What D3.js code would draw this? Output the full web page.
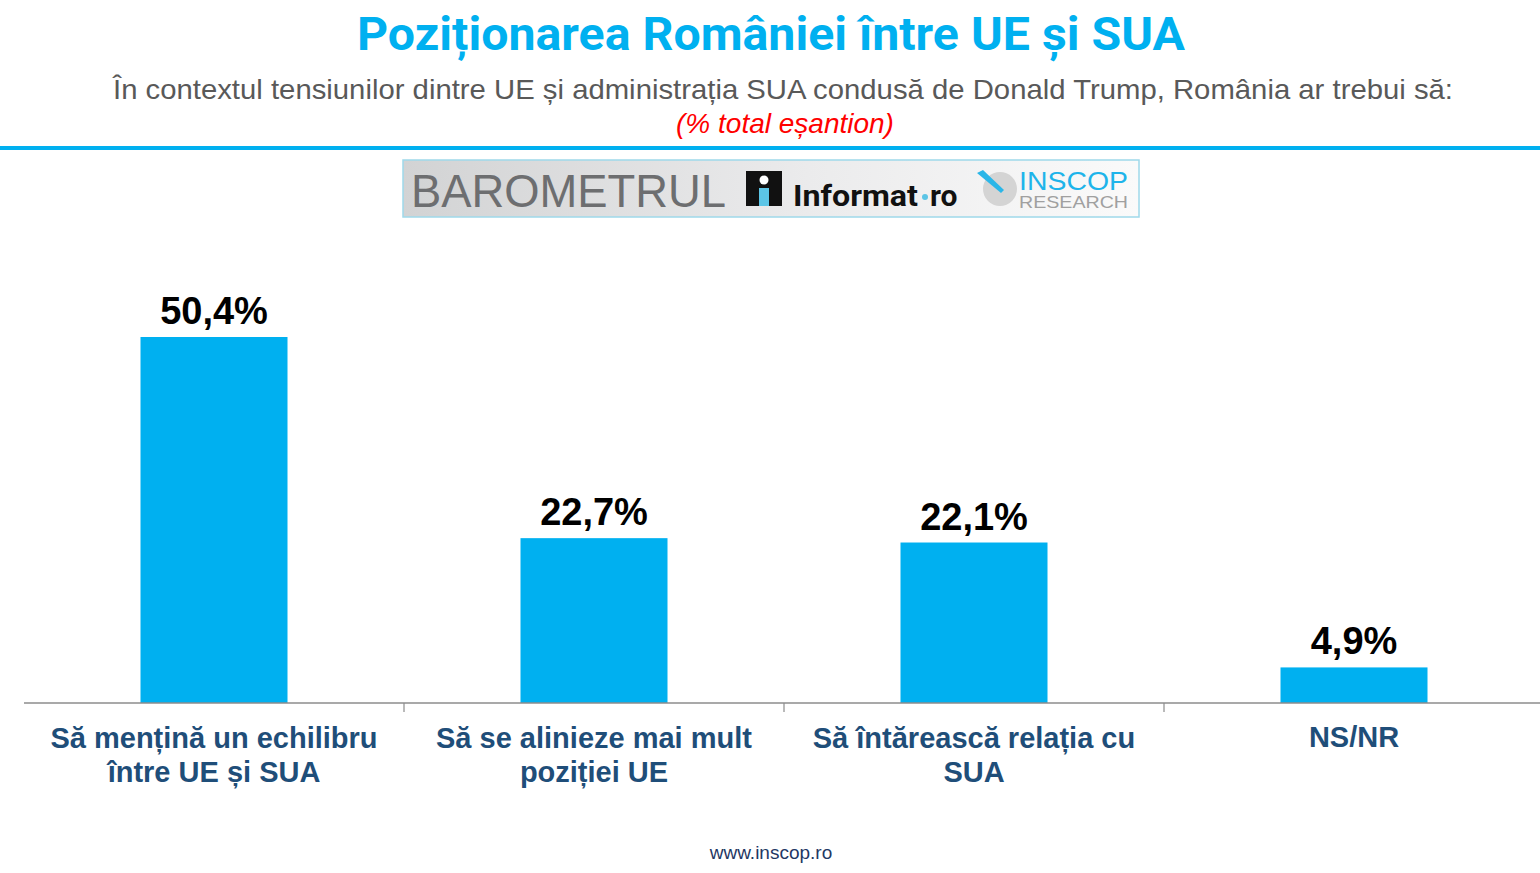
<!DOCTYPE html>
<html><head><meta charset="utf-8">
<script src="https://cdn.jsdelivr.net/npm/d3@7"></script>
<style>
html,body{margin:0;padding:0;background:#fff;}
svg{display:block;}
</style></head>
<body>
<svg id="chart" width="1540" height="873"></svg>
<script>
const titleText = "Poziționarea României între UE și SUA";
const subtitleText = "În contextul tensiunilor dintre UE și administrația SUA condusă de Donald Trump, România ar trebui să:";
const noteText = "(% total eșantion)";
const categories = [
  ["Să mențină un echilibru", "între UE și SUA"],
  ["Să se alinieze mai mult", "poziției UE"],
  ["Să întărească relația cu", "SUA"],
  ["NS/NR"]
];
const values = [50.4, 22.7, 22.1, 4.9];
const valueLabels = ["50,4%", "22,7%", "22,1%", "4,9%"];
const footerText = "www.inscop.ro";

const svg = d3.select("#chart");
const W = 1540;

// Title
svg.append("text").attr("x", 771).attr("y", 50).attr("text-anchor", "middle")
  .attr("font-family", "Roboto, 'Liberation Sans', sans-serif").attr("font-weight", "bold")
  .attr("font-size", 46).attr("fill", "#00B0F0")
  .attr("textLength", 828).attr("lengthAdjust", "spacingAndGlyphs")
  .text(titleText);

// Subtitle
svg.append("text").attr("x", 783).attr("y", 99).attr("text-anchor", "middle")
  .attr("font-family", "'Liberation Sans', Arial, sans-serif")
  .attr("font-size", 28).attr("fill", "#595959")
  .attr("textLength", 1340).attr("lengthAdjust", "spacingAndGlyphs")
  .text(subtitleText);

svg.append("text").attr("x", 785).attr("y", 133).attr("text-anchor", "middle")
  .attr("font-family", "'Liberation Sans', Arial, sans-serif").attr("font-style", "italic")
  .attr("font-size", 28).attr("fill", "#FF0000")
  .text(noteText);

// Blue rule
svg.append("rect").attr("x", 0).attr("y", 146).attr("width", W).attr("height", 4).attr("fill", "#00B0F0");

// Logo banner
const defs = svg.append("defs");
const grad = defs.append("linearGradient").attr("id", "bannerGrad").attr("x1", "0%").attr("x2", "100%");
grad.append("stop").attr("offset", "0%").attr("stop-color", "#D2D3D4");
grad.append("stop").attr("offset", "55%").attr("stop-color", "#EBEBEC");
grad.append("stop").attr("offset", "100%").attr("stop-color", "#FAFAFA");
const bx = 403, by = 160, bw = 736, bh = 57;
svg.append("rect").attr("x", bx).attr("y", by).attr("width", bw).attr("height", bh)
  .attr("fill", "url(#bannerGrad)").attr("stroke", "#9FD9EA").attr("stroke-width", 1.5);
svg.append("text").attr("x", 411).attr("y", 207)
  .attr("font-family", "'Liberation Sans', Arial, sans-serif").attr("font-size", 46)
  .attr("fill", "#6D6E70").attr("textLength", 315).attr("lengthAdjust", "spacingAndGlyphs")
  .text("BAROMETRUL");
// Informat icon
svg.append("rect").attr("x", 746).attr("y", 171).attr("width", 36).attr("height", 35).attr("fill", "#111");
svg.append("circle").attr("cx", 764).attr("cy", 180).attr("r", 4.5).attr("fill", "#fff");
svg.append("rect").attr("x", 759).attr("y", 188).attr("width", 10).attr("height", 18).attr("fill", "#5CC5E6");
svg.append("text").attr("x", 793).attr("y", 206)
  .attr("font-family", "Roboto, 'Liberation Sans', sans-serif").attr("font-weight", "bold").attr("font-size", 30)
  .attr("fill", "#111").attr("textLength", 125).attr("lengthAdjust", "spacingAndGlyphs").text("Informat");
svg.append("circle").attr("cx", 925).attr("cy", 197).attr("r", 3).attr("fill", "#5CC5E6");
svg.append("text").attr("x", 930).attr("y", 206)
  .attr("font-family", "Roboto, 'Liberation Sans', sans-serif").attr("font-weight", "bold").attr("font-size", 30)
  .attr("fill", "#111").text("ro");
// INSCOP logo
svg.append("circle").attr("cx", 1000).attr("cy", 189).attr("r", 17).attr("fill", "#D4D4D4");
svg.append("path").attr("d", "M977,173 L983,170 L1004,190 L1001,193 Z").attr("fill", "#2AB6E8");
svg.append("text").attr("x", 1019).attr("y", 190)
  .attr("font-family", "'Liberation Sans', Arial, sans-serif").attr("font-size", 25)
  .attr("fill", "#1EB4EA").attr("textLength", 109).attr("lengthAdjust", "spacingAndGlyphs").text("INSCOP");
svg.append("text").attr("x", 1019).attr("y", 208)
  .attr("font-family", "'Liberation Sans', Arial, sans-serif").attr("font-size", 17)
  .attr("fill", "#A0A0A0").attr("textLength", 109).attr("lengthAdjust", "spacingAndGlyphs").text("RESEARCH");

// Chart
const x = d3.scaleBand().domain(d3.range(categories.length)).range([24, 1544]).paddingInner(0).paddingOuter(0);
const y = d3.scaleLinear().domain([0, 50.4]).range([703, 337]);
const barW = 147;

const g = svg.append("g");
g.selectAll("rect.bar").data(values).join("rect").attr("class", "bar")
  .attr("x", (d, i) => x(i) + x.bandwidth() / 2 - barW / 2)
  .attr("y", d => y(d)).attr("width", barW).attr("height", d => y(0) - y(d))
  .attr("fill", "#00B0F0");

g.selectAll("text.val").data(values).join("text").attr("class", "val")
  .attr("x", (d, i) => x(i) + x.bandwidth() / 2).attr("y", d => y(d) - 13)
  .attr("text-anchor", "middle")
  .attr("font-family", "'Liberation Sans', Arial, sans-serif").attr("font-weight", "bold")
  .attr("font-size", 38).attr("fill", "#000")
  .text((d, i) => valueLabels[i]);

// Axis
const axis = d3.axisBottom(x).tickSize(0).tickFormat("");
const ax = svg.append("g").attr("transform", "translate(0,703)").call(axis);
ax.select(".domain").attr("stroke", "#8C8C8C").attr("stroke-width", 1.5).attr("d", "M24,0H1540");
ax.selectAll(".tick").remove();
ax.selectAll("line.sep").data(d3.range(1, categories.length)).join("line").attr("class", "sep")
  .attr("x1", i => x(i)).attr("x2", i => x(i)).attr("y1", 0).attr("y2", 9)
  .attr("stroke", "#8C8C8C").attr("stroke-width", 1.2);

// Category labels
const cl = svg.append("g");
categories.forEach((lines, i) => {
  const t = cl.append("text").attr("text-anchor", "middle")
    .attr("font-family", "'Liberation Sans', Arial, sans-serif").attr("font-weight", "bold")
    .attr("font-size", 29).attr("fill", "#1F4E79");
  lines.forEach((ln, k) => {
    t.append("tspan").attr("x", x(i) + x.bandwidth() / 2).attr("y", lines.length === 1 ? 747 : 748 + k * 34).text(ln);
  });
});

// Footer
svg.append("text").attr("x", 771).attr("y", 859).attr("text-anchor", "middle")
  .attr("font-family", "'Liberation Sans', Arial, sans-serif").attr("font-size", 19)
  .attr("fill", "#1F3864").text(footerText);
</script>
</body></html>
